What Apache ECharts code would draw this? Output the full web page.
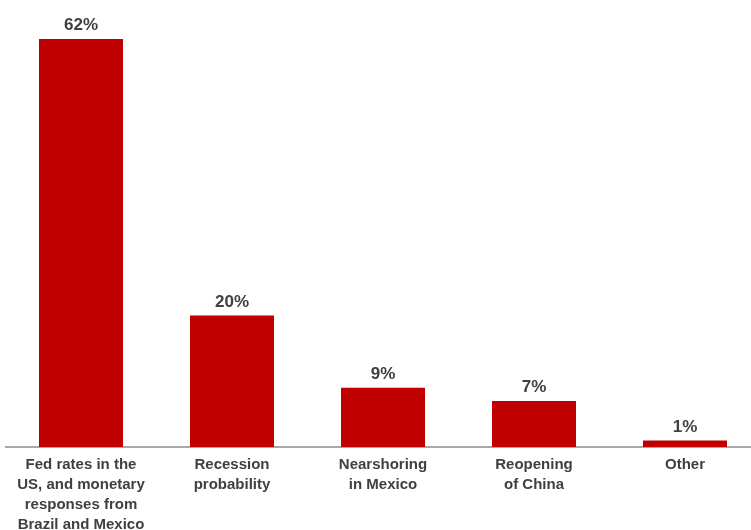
<!DOCTYPE html>
<html>
<head>
<meta charset="utf-8">
<script src="https://cdn.jsdelivr.net/npm/echarts@6/dist/echarts.min.js"></script>
<style>html,body{margin:0;padding:0;background:#fff}#c{width:751px;height:530px}</style>
</head>
<body>
<div id="c"></div>
<script>
var categories = [
  "Fed rates in the\nUS, and monetary\nresponses from\nBrazil and Mexico",
  "Recession\nprobability",
  "Nearshoring\nin Mexico",
  "Reopening\nof China",
  "Other"
];
var values = [62, 20, 9, 7, 1];

var chart = echarts.init(document.getElementById('c'));
chart.setOption({
  animation: false,
  grid: { left: 5.5, top: 39, right: -9.5, bottom: 83, containLabel: false, outerBoundsMode: 'none' },
  xAxis: {
    type: 'category',
    data: categories,
    axisLine: { show: true, lineStyle: { color: '#8c8c8c', width: 1.5 } },
    axisTick: { show: false },
    axisLabel: {
      interval: 0,
      margin: 8,
      color: '#404040',
      fontFamily: 'Liberation Sans, Arial, sans-serif',
      fontWeight: 'bold',
      fontSize: 15,
      lineHeight: 20
    }
  },
  yAxis: {
    type: 'value',
    min: 0,
    max: 62,
    show: false,
    splitLine: { show: false }
  },
  series: [{
    type: 'bar',
    data: values,
    barWidth: 84,
    itemStyle: { color: '#C00000' },
    label: {
      show: true,
      position: 'top',
      distance: 5,
      formatter: '{c}%',
      color: '#404040',
      fontFamily: 'Liberation Sans, Arial, sans-serif',
      fontWeight: 'bold',
      fontSize: 17
    }
  }]
});
</script>
</body>
</html>
